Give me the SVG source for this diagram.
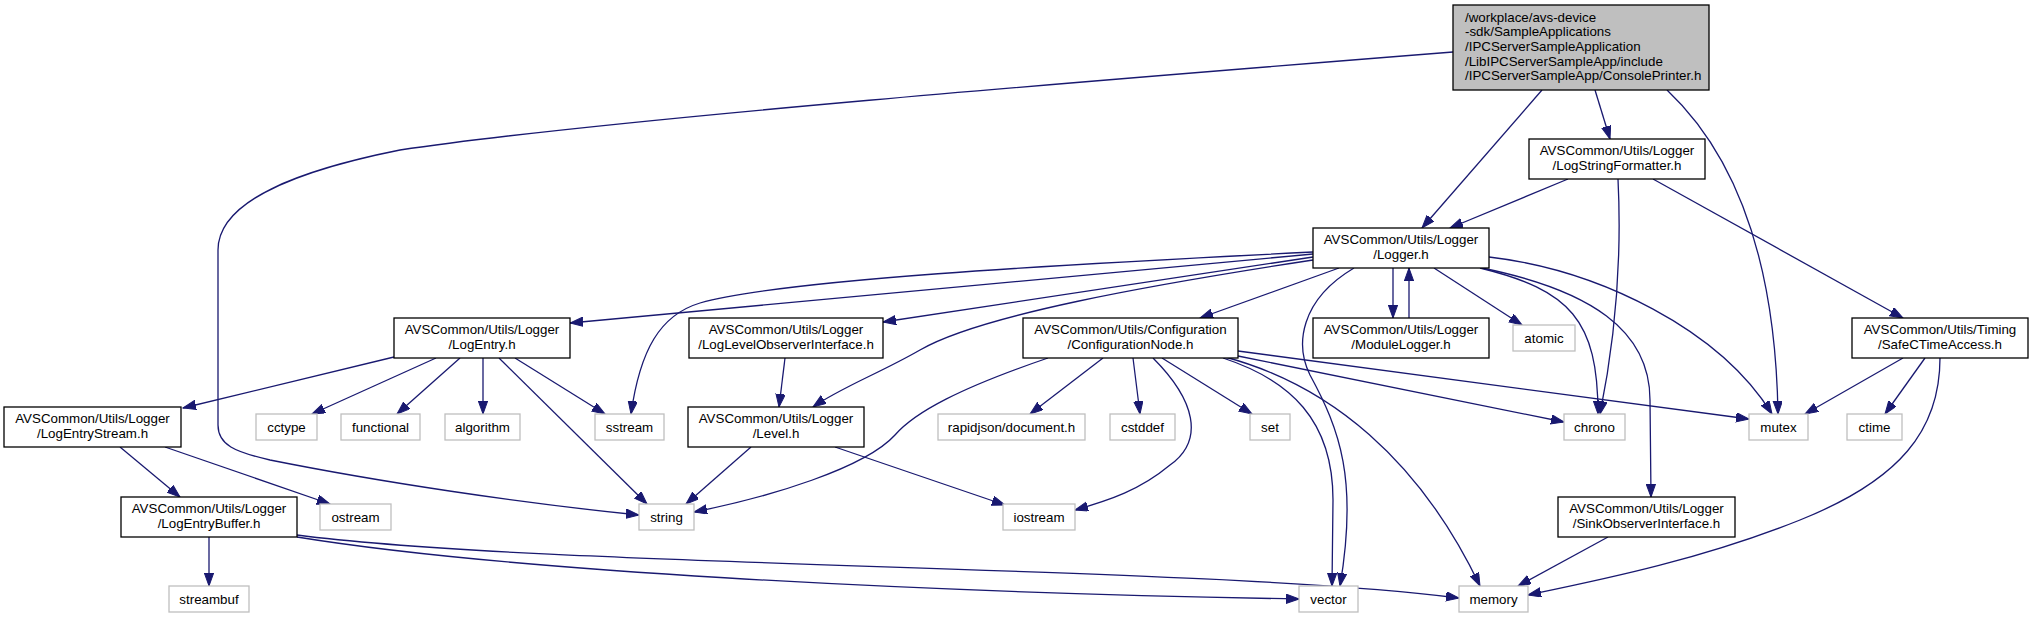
<svg xmlns="http://www.w3.org/2000/svg" width="2033" height="617" viewBox="0 0 2033 617">
<style>
.n rect{fill:#ffffff;stroke:#000000;stroke-width:1.3}
.x rect{fill:#ffffff;stroke:#bfbfbf;stroke-width:1.3}
.r rect{fill:#bfbfbf;stroke:#000000;stroke-width:1.3}
text{font-family:"Liberation Sans",Arial,Helvetica,sans-serif;font-size:13.33px;fill:#000000;text-anchor:middle}
.r text{text-anchor:start}
#edges path{fill:none;stroke:#191970;stroke-width:1.3;marker-end:url(#ah)}
</style>
<defs>
<marker id="ah" markerUnits="userSpaceOnUse" markerWidth="14" markerHeight="10" refX="13" refY="4.67" orient="auto">
<path d="M0,0 L13,4.67 L0,9.33 z" fill="#191970" stroke="#191970" stroke-width="1"/>
</marker>
</defs>
<rect width="2033" height="617" fill="#ffffff"/>
<g id="edges">
<path d="M1453,52 C1100,80 600,120 400,150 C300,170 218,200 218,250 L218,425 C218,445 235,452 270,460 C380,482 520,503 639,515"/>
<path d="M1542,90 L1422,228"/>
<path d="M1595,90 L1610,139"/>
<path d="M1667,90 C1720,140 1775,230 1778,414"/>
<path d="M1568,179 L1450,228"/>
<path d="M1618,179 C1622,260 1615,340 1600,414"/>
<path d="M1653,179 L1903,318"/>
<path d="M1313,252 C1050,265 780,280 700,303 C660,315 640,350 631,414"/>
<path d="M1313,254 L570,323"/>
<path d="M1313,257 L883,322"/>
<path d="M1313,260 C1150,285 980,315 920,350 C880,373 840,388 813,407"/>
<path d="M1339,268 L1200,318"/>
<path d="M1354,268 C1300,300 1295,345 1310,375 C1340,430 1358,480 1340,586"/>
<path d="M1393,268 L1393,318"/>
<path d="M1409,318 L1409,268"/>
<path d="M1434,268 L1522,325"/>
<path d="M1480,268 C1570,290 1598,320 1598,414"/>
<path d="M1482,268 C1590,290 1650,330 1650,400 L1651,497"/>
<path d="M1489,257 C1600,270 1720,330 1772,414"/>
<path d="M394,357 L183,408"/>
<path d="M436,358 L312,414"/>
<path d="M460,358 L397,414"/>
<path d="M483,358 L483,414"/>
<path d="M499,358 L647,504"/>
<path d="M515,358 L605,414"/>
<path d="M120,447 L180,497"/>
<path d="M165,447 L330,504"/>
<path d="M209,537 L209,586"/>
<path d="M297,537 C500,570 900,592 1299,599"/>
<path d="M297,535 C550,568 1200,565 1459,598"/>
<path d="M785,358 L779,407"/>
<path d="M751,447 L686,504"/>
<path d="M835,447 L1005,505"/>
<path d="M1048,358 C960,388 915,412 895,435 C865,468 770,497 694,512"/>
<path d="M1103,358 L1030,414"/>
<path d="M1133,358 L1140,414"/>
<path d="M1162,358 L1252,414"/>
<path d="M1153,358 C1195,400 1205,440 1170,465 C1140,490 1110,500 1075,510"/>
<path d="M1223,358 C1290,380 1333,420 1333,500 L1332,586"/>
<path d="M1225,357 C1330,385 1420,460 1480,586"/>
<path d="M1238,356 L1564,422"/>
<path d="M1238,351 L1749,419"/>
<path d="M1903,358 L1805,414"/>
<path d="M1925,358 L1885,414"/>
<path d="M1940,358 C1940,430 1900,480 1800,520 C1700,560 1600,580 1528,595"/>
<path d="M1608,537 L1518,586"/>
</g>
<g id="main" class="r"><rect x="1453" y="5" width="256" height="85"/>
<text x="1465" y="21.5">/workplace/avs-device</text>
<text x="1465" y="36.2">-sdk/SampleApplications</text>
<text x="1465" y="50.8">/IPCServerSampleApplication</text>
<text x="1465" y="65.5">/LibIPCServerSampleApp/include</text>
<text x="1465" y="80.2">/IPCServerSampleApp/ConsolePrinter.h</text></g>
<g id="logstringformatter" class="n"><rect x="1529" y="139" width="176" height="40"/><text x="1617" y="155">AVSCommon/Utils/Logger</text><text x="1617" y="169.7">/LogStringFormatter.h</text></g>
<g id="logger" class="n"><rect x="1313" y="228" width="176" height="40"/><text x="1401" y="244">AVSCommon/Utils/Logger</text><text x="1401" y="258.7">/Logger.h</text></g>
<g id="logentry" class="n"><rect x="394" y="318" width="176" height="40"/><text x="482" y="334">AVSCommon/Utils/Logger</text><text x="482" y="348.7">/LogEntry.h</text></g>
<g id="logleveobserver" class="n"><rect x="689" y="318" width="194" height="40"/><text x="786" y="334">AVSCommon/Utils/Logger</text><text x="786" y="348.7">/LogLevelObserverInterface.h</text></g>
<g id="configurationnode" class="n"><rect x="1023" y="318" width="215" height="40"/><text x="1130.5" y="334">AVSCommon/Utils/Configuration</text><text x="1130.5" y="348.7">/ConfigurationNode.h</text></g>
<g id="modulelogger" class="n"><rect x="1313" y="318" width="176" height="40"/><text x="1401" y="334">AVSCommon/Utils/Logger</text><text x="1401" y="348.7">/ModuleLogger.h</text></g>
<g id="atomic" class="x"><rect x="1513" y="325" width="62" height="26"/><text x="1544" y="342.5">atomic</text></g>
<g id="safectimeaccess" class="n"><rect x="1852" y="318" width="176" height="40"/><text x="1940" y="334">AVSCommon/Utils/Timing</text><text x="1940" y="348.7">/SafeCTimeAccess.h</text></g>
<g id="logentrystream" class="n"><rect x="4" y="407" width="177" height="40"/><text x="92.5" y="423">AVSCommon/Utils/Logger</text><text x="92.5" y="437.7">/LogEntryStream.h</text></g>
<g id="cctype" class="x"><rect x="256" y="414" width="61" height="26"/><text x="286.5" y="431.5">cctype</text></g>
<g id="functional" class="x"><rect x="341" y="414" width="79" height="26"/><text x="380.5" y="431.5">functional</text></g>
<g id="algorithm" class="x"><rect x="445" y="414" width="75" height="26"/><text x="482.5" y="431.5">algorithm</text></g>
<g id="sstream" class="x"><rect x="595" y="414" width="69" height="26"/><text x="629.5" y="431.5">sstream</text></g>
<g id="level" class="n"><rect x="688" y="407" width="176" height="40"/><text x="776" y="423">AVSCommon/Utils/Logger</text><text x="776" y="437.7">/Level.h</text></g>
<g id="rapidjson" class="x"><rect x="938" y="414" width="147" height="26"/><text x="1011.5" y="431.5">rapidjson/document.h</text></g>
<g id="cstddef" class="x"><rect x="1110" y="414" width="65" height="26"/><text x="1142.5" y="431.5">cstddef</text></g>
<g id="set" class="x"><rect x="1250" y="414" width="40" height="26"/><text x="1270" y="431.5">set</text></g>
<g id="chrono" class="x"><rect x="1564" y="414" width="61" height="26"/><text x="1594.5" y="431.5">chrono</text></g>
<g id="mutex" class="x"><rect x="1749" y="414" width="59" height="26"/><text x="1778.5" y="431.5">mutex</text></g>
<g id="ctime" class="x"><rect x="1847" y="414" width="55" height="26"/><text x="1874.5" y="431.5">ctime</text></g>
<g id="logentrybuffer" class="n"><rect x="121" y="497" width="176" height="40"/><text x="209" y="513">AVSCommon/Utils/Logger</text><text x="209" y="527.7">/LogEntryBuffer.h</text></g>
<g id="ostream" class="x"><rect x="320" y="504" width="71" height="26"/><text x="355.5" y="521.5">ostream</text></g>
<g id="string" class="x"><rect x="639" y="504" width="55" height="26"/><text x="666.5" y="521.5">string</text></g>
<g id="iostream" class="x"><rect x="1003" y="504" width="72" height="26"/><text x="1039" y="521.5">iostream</text></g>
<g id="sinkobserver" class="n"><rect x="1558" y="497" width="177" height="40"/><text x="1646.5" y="513">AVSCommon/Utils/Logger</text><text x="1646.5" y="527.7">/SinkObserverInterface.h</text></g>
<g id="streambuf" class="x"><rect x="169" y="586" width="80" height="26"/><text x="209" y="603.5">streambuf</text></g>
<g id="vector" class="x"><rect x="1299" y="586" width="59" height="26"/><text x="1328.5" y="603.5">vector</text></g>
<g id="memory" class="x"><rect x="1459" y="586" width="69" height="26"/><text x="1493.5" y="603.5">memory</text></g>
</svg>
